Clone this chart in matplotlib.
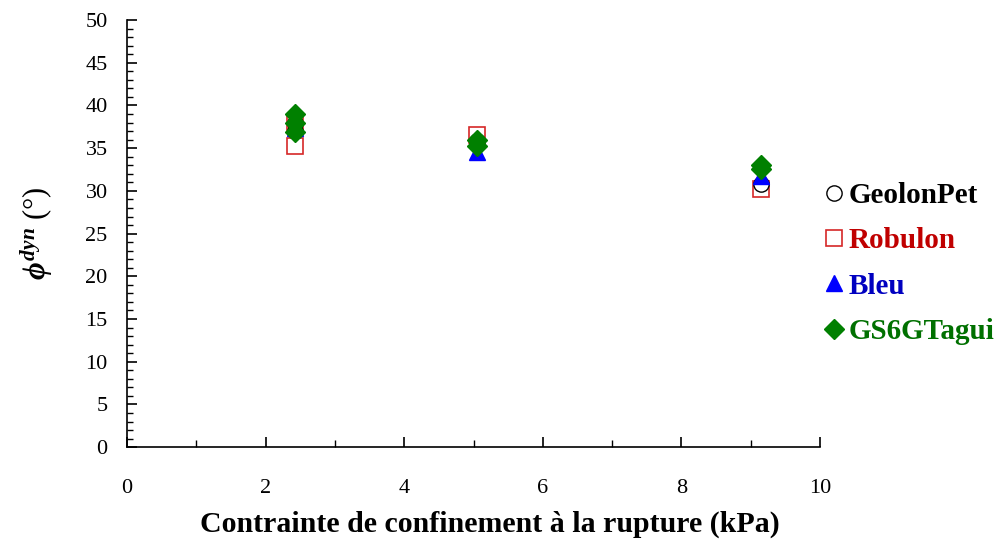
import matplotlib
matplotlib.use("Agg")
import matplotlib.pyplot as plt
from matplotlib.ticker import MultipleLocator

# Friction angle at failure versus confining stress, four geotextile series
geolon_x = [2.42, 2.42, 5.05, 9.15]
geolon_y = [37.0, 38.0, 35.8, 30.8]

robulon_x = [2.42, 2.42, 5.05, 9.15]
robulon_y = [35.2, 37.8, 36.6, 30.2]

bleu_x = [2.42, 5.05, 9.15]
bleu_y = [37.4, 34.6, 31.8]

gs_x = [2.42, 2.42, 2.42, 5.05, 5.05, 9.15, 9.15]
gs_y = [39.0, 37.9, 36.9, 36.0, 35.3, 33.0, 32.6]

series_names = ["GeolonPet", "Robulon", "Bleu", "GS6GTagui"]
x_label = "Contrainte de confinement à la rupture (kPa)"
y_label = r"$ϕ^{dyn}$ (°)"

plt.rcParams["font.family"] = ["Liberation Serif", "DejaVu Serif"]
plt.rcParams["mathtext.fontset"] = "custom"
plt.rcParams["mathtext.rm"] = "Liberation Serif:bold"
plt.rcParams["mathtext.it"] = "Liberation Serif:italic:bold"
plt.rcParams["mathtext.bf"] = "Liberation Serif:bold"
plt.rcParams["mathtext.fallback"] = "stix"

fig = plt.figure(figsize=(10.05, 5.42), dpi=100)
ax = fig.add_axes([0.1264, 0.175, 0.6896, 0.788])

ax.plot(geolon_x, geolon_y, linestyle="none", marker="o", markersize=11,
        markerfacecolor="white", markeredgecolor="black", markeredgewidth=1.0,
        label=series_names[0], zorder=3)
ax.plot(robulon_x, robulon_y, linestyle="none", marker="s", markersize=12,
        markerfacecolor="white", markeredgecolor="#d62728", markeredgewidth=1.2,
        label=series_names[1], zorder=2)
ax.plot(bleu_x, bleu_y, linestyle="none", marker="^", markersize=12,
        markerfacecolor="#0000ff", markeredgecolor="#0000ff",
        label=series_names[2], zorder=4)
ax.plot(gs_x, gs_y, linestyle="none", marker="D", markersize=10,
        markerfacecolor="#008000", markeredgecolor="#008000",
        label=series_names[3], zorder=5)

ax.set_xlim(0, 10)
ax.set_ylim(0, 50)
ax.xaxis.set_major_locator(MultipleLocator(2))
ax.xaxis.set_minor_locator(MultipleLocator(1))
ax.yaxis.set_major_locator(MultipleLocator(5))
ax.yaxis.set_minor_locator(MultipleLocator(1))

for side in ("top", "right"):
    ax.spines[side].set_visible(False)
for side in ("left", "bottom"):
    ax.spines[side].set_linewidth(1.2)

ax.tick_params(axis="both", which="major", direction="in", length=7, width=1.2,
               labelsize=16)
ax.tick_params(axis="y", which="minor", direction="in", length=4, width=1.0)
ax.tick_params(axis="x", which="minor", direction="in", length=5, width=1.0)
ax.tick_params(axis="x", which="major", pad=23)
ax.tick_params(axis="y", which="major", pad=14)

ax.set_xlabel(x_label, fontsize=21.5, fontweight="bold")
ax.xaxis.set_label_coords(0.524, -0.148)
ax.set_ylabel(y_label, fontsize=22, labelpad=22)

leg = ax.legend(loc="center left", bbox_to_anchor=(0.985, 0.43), frameon=False,
                fontsize=21, handletextpad=0.02, handlelength=0.9,
                labelspacing=0.63, borderaxespad=0)
text_colors = ["black", "#c00000", "#0000c0", "#007000"]
for txt, col in zip(leg.get_texts(), text_colors):
    txt.set_color(col)
    txt.set_fontweight("bold")

fig.savefig("out.png", dpi=100)
